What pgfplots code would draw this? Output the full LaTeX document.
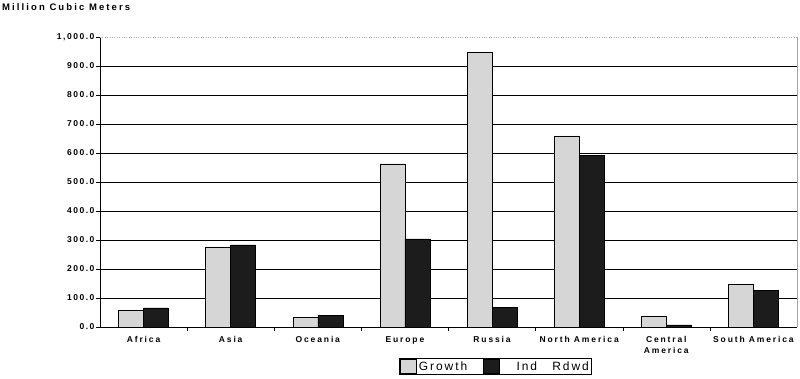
\documentclass[border=0pt]{standalone}
\usepackage{pgfplots}
\pgfplotsset{compat=1.18}
\usepackage{fontspec}
\setmainfont{Liberation Sans}
\newfontfamily\spaced[LetterSpace=22]{Liberation Sans}
\newfontfamily\yspaced[LetterSpace=18]{Liberation Sans}
\newfontfamily\wide[LetterSpace=16]{Liberation Sans}
\definecolor{growth}{HTML}{D6D6D6}
\definecolor{ind}{HTML}{1C1C1C}
\begin{document}
\begin{tikzpicture}
\path[use as bounding box] (-100pt,-51pt) rectangle (700pt,327pt);
\begin{axis}[
  at={(0,0)}, anchor=south west,
  scale only axis, width=697pt, height=290pt,
  ybar=0pt, bar width=25pt,
  xmin=-0.5, xmax=7.5, ymin=0, ymax=1000,
  xtick={0,...,7},
  xticklabels={Africa,Asia,Oceania,Europe,Russia,North America,{Central\\America},South America},
  xticklabel style={align=center, font=\spaced\fontsize{8.5}{10.5}\selectfont\bfseries, yshift=-2pt},
  major x tick style={draw=none},
  minor xtick={0.5,1.5,...,6.5},
  minor x tick style={black, thin},
  minor tick length=4pt,
  ytick={0,100,...,900},
  yticklabels={0.0,100.0,200.0,300.0,400.0,500.0,600.0,700.0,800.0,900.0},
  extra y ticks={1000}, extra y tick labels={1{,}000.0},
  extra y tick style={grid style={gray!70, dotted, thick}},
  yticklabel style={font=\yspaced\fontsize{8.5}{10}\selectfont\bfseries, xshift=2pt},
  ymajorgrids, grid style={black, thin},
  tick align=outside, major tick length=4pt,
  y tick style={black, thin},
  axis x line*=bottom, axis y line*=left,
  axis line style={black, thin, -},
  legend style={at={(0.567,-0.135)}, anchor=center, legend columns=2, draw=black, thin,
    font=\wide\fontsize{12}{13}\selectfont, inner sep=0.5pt,
    /tikz/every odd column/.append style={column sep=1pt},
    /tikz/every even column/.append style={column sep=14pt}},
  legend image code/.code={\draw[#1] (0pt,-6pt) rectangle (16pt,8pt);},
  clip=false,
]
\addplot[fill=growth, draw=black, thin] coordinates {(0,57) (1,276) (2,34) (3,563) (4,948) (5,659) (6,37) (7,146)};
\addplot[fill=ind, draw=black, thin] coordinates {(0,66) (1,283) (2,41) (3,304) (4,68) (5,591) (6,7) (7,126)};
\legend{Growth, \hspace{14pt}Ind\hspace{10pt} Rdwd}
\draw[gray!70, thin] (rel axis cs:1,0) -- (rel axis cs:1,1);
\end{axis}
\node[anchor=north west, inner sep=0pt, font=\spaced\fontsize{9.5}{11}\selectfont\bfseries] at (-98pt,324pt) {Million Cubic Meters};
\end{tikzpicture}
\end{document}
